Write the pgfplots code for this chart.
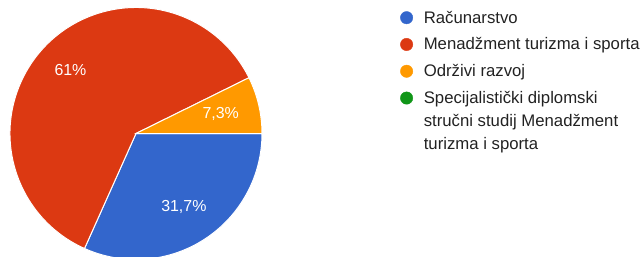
\documentclass[border=0pt]{standalone}
\usepackage{pgfplots}
\pgfplotsset{compat=1.18}
\usetikzlibrary{calc}
\usepackage{fontspec}
\setmainfont{Liberation Sans}
\definecolor{pieblue}{HTML}{3366CC}
\definecolor{piered}{HTML}{DC3912}
\definecolor{pieorange}{HTML}{FF9900}
\definecolor{piegreen}{HTML}{109618}
\definecolor{txt}{HTML}{222222}
\begin{document}
\begin{tikzpicture}
% shares (percent) of the four categories
\pgfmathsetmacro{\va}{31.7}% Racunarstvo
\pgfmathsetmacro{\vb}{61}% Menadzment turizma i sporta
\pgfmathsetmacro{\vc}{7.3}% Odrzivi razvoj
\pgfmathsetmacro{\vd}{0}% Specijalisticki ...
\pgfmathsetmacro{\aA}{0}
\pgfmathsetmacro{\aB}{\aA-3.6*\va}
\pgfmathsetmacro{\aC}{\aB-3.6*\vb}
\pgfmathsetmacro{\aD}{\aC-3.6*\vc}
\pgfmathsetmacro{\mA}{(\aA+\aB)/2}
\pgfmathsetmacro{\mB}{(\aB+\aC)/2}
\pgfmathsetmacro{\mC}{(\aC+\aD)/2}
\def\R{126}
\begin{axis}[
  x=1bp, y=1bp, xmin=0, xmax=643, ymin=0, ymax=256,
  hide axis, clip=true,
  legend style={at={(axis cs:400,247)}, anchor=north west, draw=none, fill=none,
    font=\fontsize{16.8}{23}\selectfont\color{txt},
    row sep=9.3bp, inner sep=0pt,
    cells={anchor=base west, text height=12bp, text depth=4bp, inner sep=2bp}},
  legend image code/.code={\fill[#1] (-1bp,5.5bp) circle[radius=6.2bp]; \path (14bp,5.5bp);},
]
\fill[pieblue, draw=white, line width=1bp] (axis cs:136,122.5) -- ++(\aA:\R bp) arc[start angle=\aA, end angle=\aB, radius=\R bp] -- cycle;
\fill[piered, draw=white, line width=1bp] (axis cs:136,122.5) -- ++(\aB:\R bp) arc[start angle=\aB, end angle=\aC, radius=\R bp] -- cycle;
\fill[pieorange, draw=white, line width=1bp] (axis cs:136,122.5) -- ++(\aC:\R bp) arc[start angle=\aC, end angle=\aD, radius=\R bp] -- cycle;
\node[white, font=\fontsize{16}{19}\selectfont] at ($(axis cs:136,122.5)+(\mA:88bp)$) {31,7\%};
\node[white, font=\fontsize{16}{19}\selectfont] at ($(axis cs:136,122.5)+(\mB:91bp)$) {61\%};
\node[white, font=\fontsize{16}{19}\selectfont] at ($(axis cs:136,122.5)+(\mC:87bp)$) {7,3\%};
\coordinate (bl) at (axis cs:0,0);
\coordinate (tr) at (axis cs:643,256);
\addlegendimage{pieblue}
\addlegendentry{Računarstvo}
\addlegendimage{piered}
\addlegendentry{Menadžment turizma i sporta}
\addlegendimage{pieorange}
\addlegendentry{Održivi razvoj}
\addlegendimage{piegreen}
\addlegendentry{\begin{tabular}[t]{@{}l@{}}Specijalistički diplomski\\stručni studij Menadžment\\turizma i sporta\end{tabular}}
\end{axis}
\pgfresetboundingbox
\useasboundingbox (bl) rectangle (tr);
\end{tikzpicture}
\end{document}
